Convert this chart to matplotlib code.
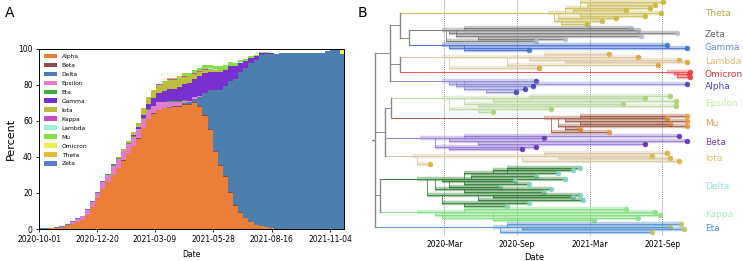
import numpy as np
import pandas as pd
import matplotlib
matplotlib.use('Agg')
import matplotlib.pyplot as plt

# ---------------- panel A data: weekly share (%) of each variant ----------------
week_start = pd.date_range('2020-10-01', periods=60, freq='7D')

variants = ['Alpha', 'Beta', 'Delta', 'Epsilon', 'Eta', 'Gamma', 'Iota',
            'Kappa', 'Lambda', 'Mu', 'Omicron', 'Theta', 'Zeta']
var_colors = ['#ec7f37', '#8c4f4a', '#4c7fae', '#e27ccb', '#3aae3a', '#7a2fd0',
              '#bcbd3c', '#c94bbd', '#9ef0d8', '#86df45', '#e6ee50', '#e8b838', '#5b7bc8']

alpha = [0, 0, 0.3, 0.5, 1, 2, 3, 4, 5, 8, 12, 17, 22, 26, 30, 34, 38, 42, 46, 50,
         56, 61, 64, 66, 67, 67, 68, 68, 69, 69, 70, 68, 63, 55, 43, 35, 29, 20, 13, 9,
         6, 4, 2, 1.5, 1, 0.3, 0, 0, 0, 0, 0, 0, 0, 0, 0, 0, 0, 0, 0, 0]
beta = [0] * 16 + [0.3] * 25 + [0] * 19
delta = [0] * 25 + [0.3, 0.3, 0.3, 0.5, 1, 2, 5, 12, 22, 34, 42, 50, 62, 70, 78,
                    83, 88, 92, 95, 96, 97, 97, 98, 98, 98, 98, 98, 98, 98, 98, 98, 99, 99.5, 100, 97]
epsilon = [0, 0, 0, 0, 0.3, 0.5, 1, 1.5, 2, 2.5, 3, 3, 4, 4, 5, 5, 5, 5, 5, 5,
           5, 5, 4, 4, 3, 3, 2, 2, 1.5, 1, 1, 0.5, 0.3] + [0] * 27
eta = [0] * 12 + [0.3] * 17 + [0] * 31
gamma = [0] * 18 + [0.5, 1, 2, 3, 4, 5, 6, 7, 7, 8, 9, 10, 10, 11, 11, 10, 10, 10,
                    9, 8, 7, 5, 4, 3, 2, 1.5, 1, 0.5, 0.3] + [0] * 13
iota = [0] * 14 + [0.3, 0.5, 1, 1.5, 2, 2.5, 3, 3.5, 4, 4.5, 5, 5, 5, 4.5, 4, 3.5,
                   3, 2.5, 2, 1.5, 1, 0.8, 0.5, 0.3] + [0] * 22
kappa = [0] * 20 + [0.2] * 16 + [0] * 24
lambda_ = [0] * 28 + [0.2] * 13 + [0] * 19
mu = [0] * 24 + [0.3, 0.5, 0.8, 1, 1.2, 1.5, 1.5, 2, 2, 2, 2, 2, 2, 2, 1.5, 1.5,
                 1, 1, 0.8, 0.5, 0.3] + [0] * 15
omicron = [0] * 58 + [0.5, 3]
theta = [0] * 20 + [0.2] * 9 + [0] * 31
zeta = [0.3, 0.4, 0.5, 0.5, 0.5, 0.5, 0.5, 0.5, 0.5, 0.5, 0.4, 0.4, 0.3, 0.3, 0.3, 0.3] + [0] * 44

shares = [alpha, beta, delta, epsilon, eta, gamma, iota, kappa, lambda_, mu, omicron, theta, zeta]
a_ticks = ['2020-10-01', '2020-12-20', '2021-03-09', '2021-05-28', '2021-08-16', '2021-11-04']

# ---------------- panel B data: time-scaled tree ----------------
# each tip: (parent tip index or -1 for clade root, branching date, tip date)
clades = {
    'Theta': dict(root=2020.88, tips=[(2, 2021.1, 2021.67), (2, 2021.15, 2021.62), (4, 2021.0, 2021.58),
                                      (4, 2021.05, 2021.42), (-1, 0, 2021.66), (4, 2021.1, 2021.55),
                                      (4, 2020.95, 2021.35), (4, 2020.92, 2021.25), (7, 2020.97, 2021.15)]),
    'Zeta': dict(root=2020.15, tips=[(1, 2020.3, 2021.45), (-1, 0, 2021.5), (1, 2020.2, 2021.77),
                                     (1, 2020.25, 2021.52), (3, 2020.4, 2021.0), (1, 2020.18, 2020.8)]),
    'Gamma': dict(root=2020.15, tips=[(-1, 0, 2021.7), (0, 2020.2, 2021.84), (0, 2020.3, 2020.75)]),
    'Lambda': dict(root=2020.15, tips=[(1, 2020.85, 2021.3), (-1, 0, 2021.5), (1, 2020.75, 2021.78),
                                       (2, 2021.0, 2021.84), (1, 2020.6, 2021.64), (1, 2020.2, 2020.82)]),
    'Omicron': dict(root=2021.7, tips=[(-1, 0, 2021.86), (0, 2021.75, 2021.85), (0, 2021.77, 2021.86)]),
    'Alpha': dict(root=2020.15, tips=[(-1, 0, 2020.8), (0, 2020.2, 2021.84), (0, 2020.25, 2020.78),
                                      (0, 2020.3, 2020.72), (3, 2020.45, 2020.66)]),
    'Epsilon': dict(root=2020.15, tips=[(1, 2020.75, 2021.72), (-1, 0, 2021.55), (1, 2020.5, 2021.76),
                                        (1, 2020.3, 2021.4), (3, 2020.4, 2021.76), (1, 2020.2, 2020.9),
                                        (5, 2020.4, 2020.5)]),
    'Mu': dict(root=2020.85, tips=[(1, 2021.1, 2021.84), (-1, 0, 2021.7), (1, 2021.0, 2021.84),
                                   (2, 2021.1, 2021.72), (1, 2020.95, 2021.84), (4, 2021.0, 2021.1),
                                   (1, 2020.9, 2021.3)]),
    'Beta': dict(root=2020.0, tips=[(1, 2020.3, 2021.78), (-1, 0, 2020.85), (1, 2020.2, 2021.84),
                                    (2, 2020.4, 2021.55), (1, 2020.1, 2020.8), (4, 2020.2, 2020.7)]),
    'Iota': dict(root=2019.95, tips=[(1, 2020.85, 2021.7), (-1, 0, 2021.6), (1, 2020.95, 2021.72),
                                     (1, 2020.7, 2021.78), (1, 2019.98, 2020.07)]),
    'Delta': dict(root=2019.98, tips=[(2, 2020.6, 2021.1), (2, 2020.5, 2021.05), (4, 2020.3, 2020.95),
                                      (4, 2020.35, 2020.8), (-1, 0, 2021.0), (4, 2020.15, 2020.65),
                                      (5, 2020.3, 2020.75), (5, 2020.2, 2020.55), (4, 2020.1, 2020.9),
                                      (8, 2020.3, 2020.85), (4, 2020.05, 2021.1), (10, 2020.5, 2021.05),
                                      (10, 2020.4, 2021.12), (10, 2020.15, 2020.75), (13, 2020.3, 2020.6)]),
    'Kappa': dict(root=2019.98, tips=[(1, 2020.3, 2021.42), (-1, 0, 2021.62), (1, 2020.1, 2021.65),
                                      (2, 2020.15, 2021.5), (1, 2020.5, 2021.2)]),
    'Eta': dict(root=2020.5, tips=[(1, 2020.6, 2021.8), (-1, 0, 2021.72), (1, 2020.7, 2021.82),
                                   (1, 2020.55, 2021.6)]),
}
# backbone: (node date, children)
backbone = (2019.69, [
    (2019.79, [(2019.86, ['Theta', (2019.92, ['Zeta', 'Gamma'])]),
               (2019.86, ['Lambda', 'Omicron']),
               'Alpha']),
    (2019.76, [(2019.8, ['Epsilon', 'Mu']), 'Beta', 'Iota']),
    (2019.72, ['Delta', 'Kappa']),
    'Eta'])

# branch colour, tip colour, label colour
clade_style = {
    'Theta': ('#cbc060', '#c8b83c', '#b3a845'),
    'Zeta': ('#7a7a7a', '#b4bccb', '#666666'),
    'Gamma': ('#4a6fd0', '#3a72c4', '#5a90d0'),
    'Lambda': ('#dcc8a4', '#e0a030', '#e8b870'),
    'Omicron': ('#ec5050', '#e83c3c', '#e03030'),
    'Alpha': ('#8c8cd8', '#4040b4', '#4848c0'),
    'Epsilon': ('#bcd8a4', '#a8d070', '#c8e8a0'),
    'Mu': ('#a05a48', '#e8983a', '#e0a060'),
    'Beta': ('#9478d4', '#6030b0', '#7040b0'),
    'Iota': ('#d8c8a0', '#e0b030', '#e0c860'),
    'Delta': ('#2e7d32', '#80d0c0', '#90e0e0'),
    'Kappa': ('#7ee07e', '#90e090', '#b0e8c0'),
    'Eta': ('#5090d0', '#c0c060', '#5090c8'),
}
b_ticks = [2020 + 2 / 12, 2020 + 8 / 12, 2021 + 2 / 12, 2021 + 8 / 12]
b_ticklabels = ['2020-Mar', '2020-Sep', '2021-Mar', '2021-Sep']

fig = plt.figure(figsize=(7.43, 2.61), dpi=100)

# ---------------- panel A ----------------
axA = fig.add_axes([0.0525, 0.1226, 0.4105, 0.6897])
bottom = np.zeros(len(week_start))
for name, vals, c in zip(variants, shares, var_colors):
    vals = np.array(vals, dtype=float)
    axA.bar(week_start, vals, width=7, bottom=bottom, align='edge', color=c,
            edgecolor='none', label=name)
    bottom += vals
axA.set_xlim(pd.Timestamp('2020-10-01'), pd.Timestamp('2021-11-23'))
axA.set_ylim(0, 100)
axA.set_xticks(pd.to_datetime(a_ticks))
axA.set_xticklabels(a_ticks)
axA.set_yticks(range(0, 101, 20))
axA.tick_params(labelsize=5.5, length=2.5, width=0.6, pad=2)
axA.set_ylabel('Percent', fontsize=8, labelpad=2)
axA.set_xlabel('Date', fontsize=5.5, labelpad=4)
for s in axA.spines.values():
    s.set_linewidth(0.7)
axA.legend(loc='upper left', fontsize=4.3, frameon=False, handlelength=2.2,
           handleheight=0.8, labelspacing=0.6, borderaxespad=0.4)

# ---------------- panel B ----------------
axB = fig.add_axes([0.5007, 0.0958, 0.436, 0.904])
for t in b_ticks:
    axB.axvline(t, color='#666666', ls=(0, (1, 1.5)), lw=0.6, zorder=0)

# assign rows
rows = {}
row = 0
order = ['Theta', 'Zeta', 'Gamma', 'Lambda', 'Omicron', 'Alpha', 'Epsilon', 'Mu',
         'Beta', 'Iota', 'Delta', 'Kappa', 'Eta']
for name in order:
    n = len(clades[name]['tips'])
    rows[name] = [row + i for i in range(n)]
    row += n + 0.4
n_rows = row


def draw_clade(name):
    info = clades[name]
    bc, tc, lc = clade_style[name]
    ys = rows[name]
    for i, (par, node, tip) in enumerate(info['tips']):
        start = info['root'] if par < 0 else node
        if par >= 0:
            axB.plot([node, node], [ys[par], ys[i]], color=bc, lw=0.6, alpha=0.9)
        axB.plot([start, tip], [ys[i], ys[i]], color=bc, lw=3.2, alpha=0.4,
                 solid_capstyle='butt')
        axB.plot([start, tip], [ys[i], ys[i]], color=bc, lw=0.6)
        axB.plot(tip, ys[i], 'o', ms=3.4, mfc=tc, mec=tc, mew=0.5, alpha=0.9)
    main = [i for i, t in enumerate(info['tips']) if t[0] < 0][0]
    axB.text(2021.96, np.mean(ys), name, color=lc, fontsize=6.5, va='center',
             ha='left', clip_on=False)
    return info['root'], ys[main], bc


def draw_node(node):
    if isinstance(node, str):
        return draw_clade(node)
    date, children = node
    ys = []
    for ch in children:
        x0, y0, col = draw_node(ch)
        axB.plot([date, x0], [y0, y0], color=col, lw=0.7)
        ys.append(y0)
    axB.plot([date, date], [min(ys), max(ys)], color='#8a8a8a', lw=1.0)
    return date, (min(ys) + max(ys)) / 2, '#8a8a8a'


rx, ry, rc = draw_node(backbone)
axB.plot([2019.67, rx], [ry, ry], color='#8a8a8a', lw=1.0)

axB.set_xlim(2019.668, 2021.9)
axB.set_ylim(n_rows, -0.8)
axB.set_yticks([])
axB.set_xticks(b_ticks)
axB.set_xticklabels(b_ticklabels)
axB.tick_params(axis='x', length=0, labelsize=5.5, pad=3)
for s in axB.spines.values():
    s.set_visible(False)
axB.set_xlabel('Date', fontsize=6, labelpad=3)

fig.text(0.006, 0.935, 'A', fontsize=10)
fig.text(0.481, 0.935, 'B', fontsize=10)

fig.savefig('out.png', dpi=100)
